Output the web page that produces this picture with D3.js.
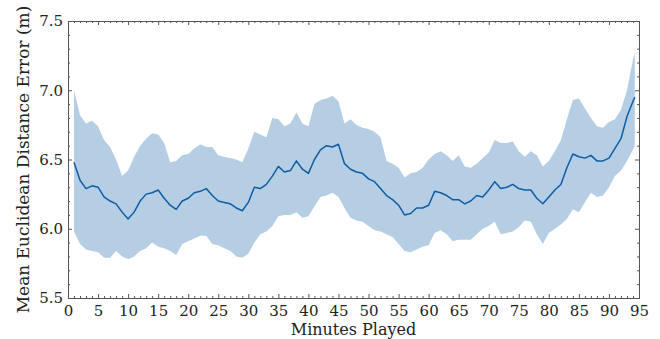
<!DOCTYPE html>
<html>
  <head>
    <meta charset="UTF-8">
    <style>
      body { margin: 0; background: #fff; }
      svg { display: block; font-family: "DejaVu Serif", serif; }
      .axis path, .axis line { stroke: #555; }
      .axis text { fill: #222; font-size: 15px; font-family: "DejaVu Serif", serif; }
    </style>
  </head>
  <body>
    <svg id="chart" width="660" height="339"></svg>

    <script src="https://d3js.org/d3.v7.min.js"></script>
    <script>
      // minutes played (x values)
      var minutes = [1, 2, 3, 4, 5, 6, 7, 8, 9, 10, 11, 12, 13, 14, 15, 16, 17, 18, 19, 20,
        21, 22, 23, 24, 25, 26, 27, 28, 29, 30, 31, 32, 33, 34, 35, 36, 37, 38, 39, 40,
        41, 42, 43, 44, 45, 46, 47, 48, 49, 50, 51, 52, 53, 54, 55, 56, 57, 58, 59, 60,
        61, 62, 63, 64, 65, 66, 67, 68, 69, 70, 71, 72, 73, 74, 75, 76, 77, 78, 79, 80,
        81, 82, 83, 84, 85, 86, 87, 88, 89, 90, 91, 92, 93, 94, 94.3];

      // mean error
      var meanError = [6.48, 6.35, 6.29, 6.31, 6.30, 6.23, 6.20, 6.18, 6.12, 6.07,
        6.12, 6.20, 6.25, 6.26, 6.28, 6.22, 6.17, 6.14, 6.20, 6.22,
        6.26, 6.27, 6.29, 6.24, 6.20, 6.19, 6.18, 6.15, 6.13, 6.19,
        6.30, 6.29, 6.32, 6.38, 6.45, 6.41, 6.42, 6.49, 6.43, 6.40,
        6.50, 6.57, 6.60, 6.59, 6.61, 6.47, 6.43, 6.41, 6.40, 6.36,
        6.34, 6.29, 6.24, 6.21, 6.17, 6.10, 6.11, 6.15, 6.15, 6.17,
        6.27, 6.26, 6.24, 6.21, 6.21, 6.18, 6.20, 6.24, 6.23, 6.28,
        6.34, 6.29, 6.30, 6.32, 6.29, 6.28, 6.28, 6.22, 6.18, 6.23,
        6.28, 6.32, 6.44, 6.54, 6.52, 6.51, 6.53, 6.49, 6.49, 6.51,
        6.58, 6.65, 6.81, 6.92, 6.95];

      // upper edge of the shaded band
      var upperError = [7.00, 6.82, 6.76, 6.78, 6.74, 6.64, 6.59, 6.50, 6.38, 6.42,
        6.52, 6.60, 6.65, 6.69, 6.68, 6.62, 6.48, 6.49, 6.53, 6.54,
        6.58, 6.61, 6.59, 6.59, 6.53, 6.52, 6.51, 6.50, 6.48, 6.58,
        6.70, 6.68, 6.66, 6.80, 6.79, 6.74, 6.76, 6.84, 6.76, 6.74,
        6.90, 6.93, 6.94, 6.96, 6.92, 6.76, 6.79, 6.75, 6.73, 6.72,
        6.70, 6.66, 6.49, 6.47, 6.44, 6.37, 6.40, 6.41, 6.44, 6.50,
        6.54, 6.56, 6.53, 6.49, 6.53, 6.45, 6.44, 6.47, 6.51, 6.55,
        6.64, 6.62, 6.62, 6.63, 6.56, 6.52, 6.56, 6.53, 6.45, 6.49,
        6.56, 6.64, 6.79, 6.93, 6.94, 6.87, 6.80, 6.74, 6.73, 6.77,
        6.79, 6.86, 7.00, 7.22, 7.27];

      // lower edge of the shaded band
      var lowerError = [5.98, 5.89, 5.85, 5.84, 5.83, 5.79, 5.79, 5.84, 5.80, 5.78,
        5.80, 5.84, 5.86, 5.90, 5.87, 5.86, 5.84, 5.81, 5.89, 5.91,
        5.93, 5.95, 5.95, 5.89, 5.88, 5.86, 5.84, 5.80, 5.79, 5.82,
        5.90, 5.96, 5.98, 6.02, 6.09, 6.10, 6.10, 6.12, 6.08, 6.09,
        6.16, 6.23, 6.24, 6.26, 6.23, 6.15, 6.08, 6.06, 6.05, 6.02,
        5.99, 5.98, 5.96, 5.94, 5.89, 5.84, 5.83, 5.85, 5.87, 5.88,
        5.97, 5.99, 5.96, 5.91, 5.92, 5.92, 5.92, 5.96, 6.00, 6.02,
        6.05, 5.96, 5.97, 5.98, 6.01, 6.06, 6.05, 5.96, 5.89, 5.97,
        6.00, 6.03, 6.07, 6.14, 6.12, 6.19, 6.26, 6.23, 6.24, 6.30,
        6.38, 6.42, 6.49, 6.57, 6.60];

      var xTicks = [0, 5, 10, 15, 20, 25, 30, 35, 40, 45, 50, 55, 60, 65, 70, 75, 80, 85, 90, 95];
      var yTicks = [5.5, 6.0, 6.5, 7.0, 7.5];

      var margin = {top: 21, right: 21, bottom: 41, left: 68};
      var svg = d3.select("#chart"),
          width = +svg.attr("width") - margin.left - margin.right,
          height = +svg.attr("height") - margin.top - margin.bottom;

      var g = svg.append("g")
          .attr("transform", "translate(" + margin.left + "," + margin.top + ")");

      var x = d3.scaleLinear().domain([0, 95]).range([0, width]);
      var y = d3.scaleLinear().domain([5.5, 7.5]).range([height, 0]);

      var rows = minutes.map(function(m, i) {
        return {m: m, mean: meanError[i], lo: lowerError[i], hi: upperError[i]};
      });

      var blue = "#0C5DA5";

      g.append("path")
          .datum(rows)
          .attr("fill", blue)
          .attr("fill-opacity", 0.3)
          .attr("d", d3.area()
            .x(function(d) { return x(d.m); })
            .y0(function(d) { return y(d.lo); })
            .y1(function(d) { return y(d.hi); }));

      g.append("path")
          .datum(rows)
          .attr("fill", "none")
          .attr("stroke", blue)
          .attr("stroke-width", 1.5)
          .attr("stroke-linejoin", "round")
          .attr("d", d3.line()
            .x(function(d) { return x(d.m); })
            .y(function(d) { return y(d.mean); }));

      var xMinor = d3.range(0, 96, 1).filter(function(v) { return v % 5 != 0; });
      var yMinor = d3.range(55, 76, 1).filter(function(v) { return v % 5 != 0; })
          .map(function(v) { return v / 10; });

      // major axes with labels, ticks pointing inward
      g.append("g").attr("class", "axis")
          .attr("transform", "translate(0," + height + ")")
          .call(d3.axisBottom(x).tickValues(xTicks).tickSize(-4).tickSizeOuter(0).tickPadding(7).tickFormat(d3.format("d")));
      g.append("g").attr("class", "axis")
          .call(d3.axisLeft(y).tickValues(yTicks).tickSize(-4).tickSizeOuter(0).tickPadding(5).tickFormat(d3.format(".1f")));
      g.append("g").attr("class", "axis")
          .call(d3.axisTop(x).tickValues(xTicks).tickSize(-4).tickSizeOuter(0).tickFormat(""));
      g.append("g").attr("class", "axis")
          .attr("transform", "translate(" + width + ",0)")
          .call(d3.axisRight(y).tickValues(yTicks).tickSize(-4).tickSizeOuter(0).tickFormat(""));

      // minor ticks
      g.append("g").attr("class", "axis")
          .attr("transform", "translate(0," + height + ")")
          .call(d3.axisBottom(x).tickValues(xMinor).tickSize(-2).tickSizeOuter(0).tickFormat(""));
      g.append("g").attr("class", "axis")
          .call(d3.axisTop(x).tickValues(xMinor).tickSize(-2).tickSizeOuter(0).tickFormat(""));
      g.append("g").attr("class", "axis")
          .call(d3.axisLeft(y).tickValues(yMinor).tickSize(-2).tickSizeOuter(0).tickFormat(""));
      g.append("g").attr("class", "axis")
          .attr("transform", "translate(" + width + ",0)")
          .call(d3.axisRight(y).tickValues(yMinor).tickSize(-2).tickSizeOuter(0).tickFormat(""));

      svg.append("text")
          .attr("x", margin.left + width / 2)
          .attr("y", 335)
          .attr("text-anchor", "middle")
          .attr("font-size", 16)
          .attr("fill", "#222")
          .text("Minutes Played");

      svg.append("text")
          .attr("transform", "translate(29," + (margin.top + height / 2) + ") rotate(-90)")
          .attr("text-anchor", "middle")
          .attr("font-size", 17)
          .attr("fill", "#222")
          .text("Mean Euclidean Distance Error (m)");
    </script>
  </body>
</html>
